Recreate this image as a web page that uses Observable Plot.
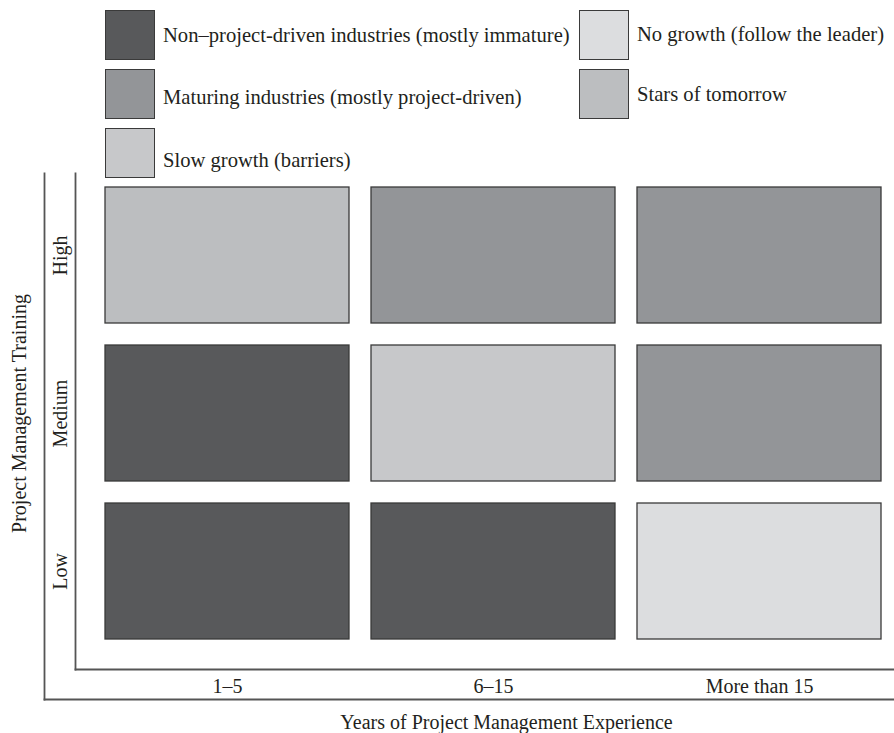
<!DOCTYPE html>
<html>
<head>
<meta charset="utf-8">
<script src="https://cdn.jsdelivr.net/npm/d3@7"></script>
<script src="https://cdn.jsdelivr.net/npm/@observablehq/plot@0.6"></script>
<style>
  html, body { margin: 0; padding: 0; background: #fff; }
  body { width: 894px; height: 733px; overflow: hidden; color: #231f20; }
  #legend { position: relative; height: 168px; width: 894px; z-index: 1; }
  .sw { position: absolute; width: 48px; height: 48px; border: 1.3px solid #3a3a3a; box-sizing: content-box; }
  .lt { position: absolute; font-family: 'Liberation Serif', 'Times New Roman', serif; font-size: 20.6px; line-height: 20px; white-space: nowrap; color: #231f20; }
  #chart svg { display: block; }
</style>
</head>
<body>
<div id="legend"></div>
<div id="chart"></div>
<script>
// ---- data ----
const experience = ["1–5", "6–15", "More than 15"];
const training = ["High", "Medium", "Low"];
const categories = [
  "Non–project-driven industries (mostly immature)",
  "Maturing industries (mostly project-driven)",
  "Slow growth (barriers)",
  "No growth (follow the leader)",
  "Stars of tomorrow"
];
const colors = ["#58595b", "#939598", "#c7c8ca", "#dcdddf", "#bcbec0"];
// category of each cell, one row per training level (High, Medium, Low), columns = experience
const highRow = ["Stars of tomorrow", "Maturing industries (mostly project-driven)", "Maturing industries (mostly project-driven)"];
const mediumRow = ["Non–project-driven industries (mostly immature)", "Slow growth (barriers)", "Maturing industries (mostly project-driven)"];
const lowRow = ["Non–project-driven industries (mostly immature)", "Non–project-driven industries (mostly immature)", "No growth (follow the leader)"];
const xTitle = "Years of Project Management Experience";
const yTitle = "Project Management Training";

const rows = [highRow, mediumRow, lowRow];
const data = training.flatMap((t, r) => experience.map((e, c) => ({training: t, experience: e, category: rows[r][c]})));

// ---- legend (HTML, above the SVG) ----
const legend = d3.select("#legend");
categories.forEach((cat, i) => {
  const col = i < 3 ? 0 : 1;
  const row = col === 0 ? i : i - 3;
  const left = col === 0 ? 105 : 579;
  const top = 10 + 59 * row;
  legend.append("div").attr("class", "sw")
    .style("left", left + "px").style("top", top + "px").style("background", colors[i]);
  const toff = col === 0 ? [14.5, 17.5, 21.5][row] : [13.5, 14.5][row];
  legend.append("div").attr("class", "lt")
    .style("left", (left + 58) + "px").style("top", (top + toff) + "px").text(cat);
});

// ---- chart ----
const lineStyle = {stroke: "#555", strokeWidth: 1.8};
const chart = Plot.plot({
  width: 894,
  height: 565,
  marginLeft: 105,
  marginRight: 13,
  marginTop: 19,
  marginBottom: 94,
  style: {fontFamily: "'Liberation Serif', 'Times New Roman', serif", fontSize: "20px", color: "#231f20", background: "transparent", overflow: "visible"},
  x: {domain: experience, paddingInner: 22 / 266, paddingOuter: 0},
  y: {domain: training, paddingInner: 22 / 158, paddingOuter: 0, axis: null},
  color: {domain: categories, range: colors},
  marks: [
    Plot.cell(data, {x: "experience", y: "training", fill: "category", stroke: "#3a3a3a", strokeWidth: 1.3}),
    Plot.axisX({anchor: "bottom", tickSize: 0, tickPadding: 39, fontSize: 20, label: null}),
    Plot.text(training, {y: (d) => d, text: (d) => d, frameAnchor: "left", rotate: -90, textAnchor: "middle", lineAnchor: "middle", dx: -45.4, fontSize: 20, fill: "#231f20"}),
    // inner L axis lines
    Plot.frame({anchor: "left", insetLeft: -30, insetTop: -14, insetBottom: -30, ...lineStyle}),
    Plot.frame({anchor: "bottom", insetBottom: -30, insetLeft: -30, insetRight: -13, ...lineStyle}),
    // outer L axis lines
    Plot.frame({anchor: "left", insetLeft: -61, insetTop: -14, insetBottom: -60, ...lineStyle}),
    Plot.frame({anchor: "bottom", insetBottom: -60, insetLeft: -61, insetRight: -13, ...lineStyle}),
    // axis titles
    Plot.text([xTitle], {frameAnchor: "bottom", lineAnchor: "middle", textAnchor: "middle", dy: 82.6, dx: 13, fontSize: 20, fill: "#231f20"}),
    Plot.text([yTitle], {frameAnchor: "left", rotate: -90, textAnchor: "middle", lineAnchor: "middle", dx: -86.4, fontSize: 20, fill: "#231f20"})
  ]
});
document.getElementById("chart").appendChild(chart);
</script>
</body>
</html>
